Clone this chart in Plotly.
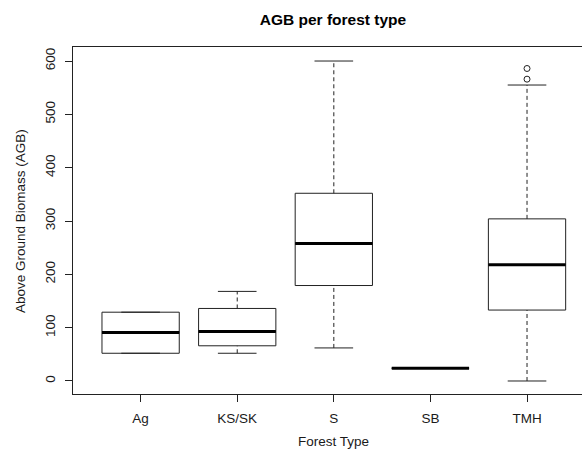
import plotly.graph_objects as go

categories = ["Ag", "KS/SK", "S", "SB", "TMH"]
lower_whisker = [52, 52, 62, 24, 0]
q1 = [52, 66, 179, 24, 133]
median = [91, 93, 258, 24, 218]
q3 = [129, 136, 352, 24, 304]
upper_whisker = [129, 168, 600, 24, 555]
outlier_cat = ["TMH", "TMH"]
outlier_val = [566, 586]

y_ticks = [0, 100, 200, 300, 400, 500, 600]

pos = {c: i + 1 for i, c in enumerate(categories)}
xs = [pos[c] for c in categories]
BW = 0.8
CAP = 0.4
LINE = "#222222"

fig = go.Figure()

# boxes (no whiskers from the box trace)
fig.add_trace(go.Box(
    x=xs, q1=q1, median=median, q3=q3, lowerfence=q1, upperfence=q3,
    width=BW, fillcolor="rgba(0,0,0,0)", line=dict(color=LINE, width=1),
    whiskerwidth=0, boxpoints=False, hoverinfo="skip", showlegend=False,
))

# whiskers (dashed), caps, medians
wx, wy, cx, cy, mx, my = [], [], [], [], [], []
for x, lw, a, m, b, uw in zip(xs, lower_whisker, q1, median, q3, upper_whisker):
    wx += [x, x, None, x, x, None]
    wy += [lw, a, None, b, uw, None]
    cx += [x - CAP / 2, x + CAP / 2, None, x - CAP / 2, x + CAP / 2, None]
    cy += [lw, lw, None, uw, uw, None]
    mx += [x - BW / 2, x + BW / 2, None]
    my += [m, m, None]

fig.add_trace(go.Scatter(x=wx, y=wy, mode="lines",
                         line=dict(color=LINE, width=1, dash="4px,3px"),
                         showlegend=False, hoverinfo="skip"))
fig.add_trace(go.Scatter(x=cx, y=cy, mode="lines",
                         line=dict(color=LINE, width=1),
                         showlegend=False, hoverinfo="skip"))
fig.add_trace(go.Scatter(x=mx, y=my, mode="lines",
                         line=dict(color="#000000", width=3),
                         showlegend=False, hoverinfo="skip"))
fig.add_trace(go.Scatter(x=[pos[c] for c in outlier_cat], y=outlier_val, mode="markers",
                         marker=dict(symbol="circle-open", size=6, color=LINE,
                                     line=dict(width=1)),
                         showlegend=False, hoverinfo="skip"))

FONT = "Liberation Sans, Arial, sans-serif"
W, H = 583, 452
L, R, T, B = 73, 1, 47, 58
FS = 13.5
fig.update_layout(
    width=W, height=H,
    margin=dict(l=L, r=R, t=T, b=B, autoexpand=False),
    paper_bgcolor="white", plot_bgcolor="white",
    font=dict(family=FONT, size=FS, color="#1a1a1a"),
    title=dict(text="<b>AGB per forest type</b>", x=333 / W, xanchor="center",
               y=1 - 20 / H, yanchor="middle", font=dict(size=15.5, color="#000")),
    xaxis=dict(
        range=[0.3, 0.3 + (582 - 73) / 96.6],
        tickmode="array", tickvals=xs, ticktext=categories,
        showgrid=False, zeroline=False, automargin=False,
        showline=True, mirror=True, linecolor=LINE, linewidth=1,
        ticks="outside", ticklen=7, tickcolor=LINE,
        ticklabelstandoff=5,
    ),
    yaxis=dict(
        range=[-24.4, 626.3],
        tickmode="array", tickvals=y_ticks, ticktext=[str(v) for v in y_ticks],
        tickangle=-90, automargin=False,
        showgrid=False, zeroline=False,
        showline=True, mirror=False, linecolor=LINE, linewidth=1,
        ticks="outside", ticklen=7, tickcolor=LINE,
        ticklabelstandoff=5,
    ),
    annotations=[
        dict(text="Forest Type", xref="paper", yref="paper",
             x=(333 - L) / (W - L - R), y=-(441.7 - (H - B)) / (H - T - B),
             xanchor="center", yanchor="middle", showarrow=False,
             font=dict(size=FS)),
        dict(text="Above Ground Biomass (AGB)", xref="paper", yref="paper",
             x=-(L - 20) / (W - L - R), y=(H - B - 221) / (H - T - B),
             xanchor="center", yanchor="middle", showarrow=False, textangle=-90,
             font=dict(size=FS)),
    ],
)

fig.write_html(
    "out.html",
    config={"displayModeBar": False},
    post_script="document.body.style.margin='0';document.body.style.overflow='hidden';",
)
